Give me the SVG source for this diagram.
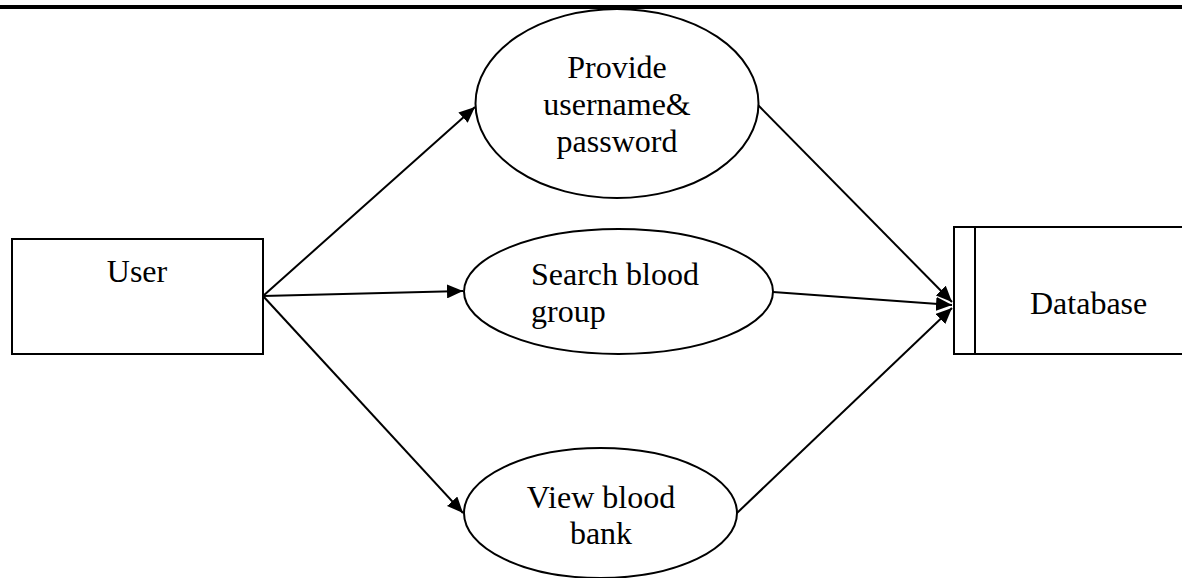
<svg xmlns="http://www.w3.org/2000/svg" width="1182" height="578" viewBox="0 0 1182 578">
  <style>
    .shape { fill: #ffffff; stroke: #000000; stroke-width: 2; }
    .label { font-family: "Liberation Serif", "Times New Roman", serif; font-size: 32px; fill: #000000; }
    .mid { text-anchor: middle; }
    .flow { fill: none; stroke: #000000; stroke-width: 2; }
  </style>
  <defs>
    <marker id="arrow" markerUnits="userSpaceOnUse" markerWidth="16" markerHeight="14" refX="16" refY="7" orient="auto">
      <path d="M0,0 L16,7 L0,14 Z" fill="#000000"/>
    </marker>
  </defs>

  <rect width="1182" height="578" fill="#ffffff"/>

  <!-- page rule across the top -->
  <rect x="0" y="5" width="1182" height="4" fill="#000000"/>

  <!-- connectors -->
  <g id="connectors">
    <line class="flow" x1="263" y1="296" x2="475" y2="107" marker-end="url(#arrow)"/>
    <line class="flow" x1="263" y1="296" x2="463" y2="291" marker-end="url(#arrow)"/>
    <line class="flow" x1="263" y1="296" x2="463" y2="513" marker-end="url(#arrow)"/>
    <line class="flow" x1="758" y1="105" x2="952" y2="302" marker-end="url(#arrow)"/>
    <line class="flow" x1="773" y1="292" x2="952" y2="305" marker-end="url(#arrow)"/>
    <line class="flow" x1="737" y1="513" x2="952" y2="308" marker-end="url(#arrow)"/>
  </g>

  <!-- external entity -->
  <g id="user">
    <rect class="shape" x="12" y="239" width="251" height="115"/>
    <text class="label mid" x="137" y="282">User</text>
  </g>

  <!-- processes -->
  <g id="provide-credentials">
    <ellipse class="shape" cx="617" cy="103.5" rx="141.5" ry="94.5"/>
    <text class="label mid" x="617" y="78">Provide</text>
    <text class="label mid" x="617" y="115">username&amp;</text>
    <text class="label mid" x="617" y="152">password</text>
  </g>

  <g id="search-blood-group">
    <ellipse class="shape" cx="618.5" cy="291.5" rx="154.5" ry="62.5"/>
    <text class="label" x="531" y="285">Search blood</text>
    <text class="label" x="531" y="322">group</text>
  </g>

  <g id="view-blood-bank">
    <ellipse class="shape" cx="600.5" cy="513" rx="136.5" ry="65"/>
    <text class="label mid" x="601" y="508">View blood</text>
    <text class="label mid" x="601" y="544">bank</text>
  </g>

  <!-- data store -->
  <g id="database">
    <rect class="shape" x="954" y="227" width="240" height="127"/>
    <line class="flow" x1="975" y1="227" x2="975" y2="354"/>
    <text class="label" x="1030" y="314">Database</text>
  </g>
</svg>
